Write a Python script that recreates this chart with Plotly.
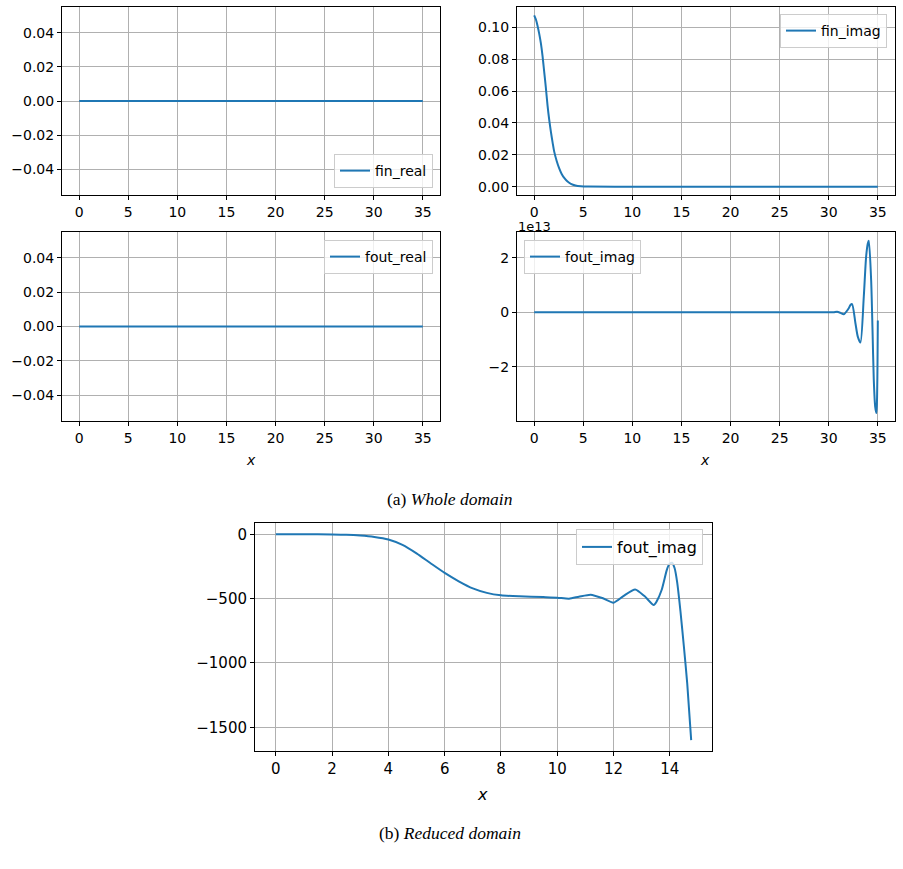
import plotly.graph_objects as go

# ---------------- data ----------------
x_whole = [0, 35]
fin_real = [0.0, 0.0]
fout_real = [0.0, 0.0]

x_fin_imag = [0, 0.17, 0.34, 0.51, 0.68, 0.85, 1.02, 1.19, 1.36, 1.53, 1.70, 1.87,
              2.04, 2.3, 2.55, 2.8, 3.06, 3.4, 3.74, 4.2, 4.76, 5.5, 10, 20, 35]
fin_imag = [0.1075, 0.105, 0.101, 0.096, 0.090, 0.082, 0.072, 0.062, 0.051, 0.042,
            0.0345, 0.028, 0.022, 0.016, 0.0115, 0.008, 0.0055, 0.0032, 0.0018,
            0.0008, 0.0003, 0.0001, 0.0, 0.0, 0.0]

x_fout_whole = [0, 30, 30.5, 30.85, 31.2, 31.53, 32.04, 32.21, 32.38, 32.72, 32.96,
                33.23, 33.57, 33.81, 33.98, 34.08, 34.32, 34.46, 34.59, 34.73,
                34.86, 34.93, 34.97, 35.0]
fout_imag_whole = [0, 0, 0.0, 0.02e13, -0.02e13, -0.07e13, 0.15e13, 0.27e13, 0.30e13,
                   -0.40e13, -0.89e13, -1.11e13, 0.57e13, 2.04e13, 2.52e13, 2.62e13,
                   1.18e13, -0.65e13, -2.48e13, -3.45e13, -3.69e13, -3.0e13,
                   -1.8e13, -0.3e13]

x_reduced = [0, 1, 2, 2.5, 3.0, 3.5, 4.0, 4.5, 5.0, 5.5, 6.0, 6.5, 7.0, 7.5,
             8.0, 8.65, 9.5, 10.0, 10.42, 10.77, 11.19, 11.6, 12.0, 12.35, 12.77,
             13.1, 13.43, 13.53, 13.71, 13.89, 13.98, 14.08, 14.17, 14.26, 14.38,
             14.5, 14.62, 14.76]
fout_imag_reduced = [0, 0, -1, -3, -9, -20, -40, -82, -148, -225, -300, -365, -420,
                     -455, -474, -482, -488, -492, -500, -485, -469, -495, -531, -480,
                     -428, -480, -550, -523, -433, -280, -232, -221, -262, -370, -600,
                     -870, -1160, -1600]

W, H = 903, 869
BLUE = "#1f77b4"


def px_x(p):
    return p / W


def px_y(p):
    return 1 - p / H


fig = go.Figure()

line = dict(color=BLUE, width=2)
fig.add_trace(go.Scatter(x=x_whole, y=fin_real, mode="lines", name="fin_real",
                         line=line, xaxis="x", yaxis="y", legend="legend"))
fig.add_trace(go.Scatter(x=x_fin_imag, y=fin_imag, mode="lines", name="fin_imag",
                         line=dict(color=BLUE, width=2, shape="spline", smoothing=0.8),
                         xaxis="x2", yaxis="y2", legend="legend2"))
fig.add_trace(go.Scatter(x=x_whole, y=fout_real, mode="lines", name="fout_real",
                         line=line, xaxis="x3", yaxis="y3", legend="legend3"))
fig.add_trace(go.Scatter(x=x_fout_whole, y=fout_imag_whole, mode="lines", name="fout_imag",
                         line=dict(color=BLUE, width=2, shape="spline", smoothing=0.7),
                         xaxis="x4", yaxis="y4", legend="legend4"))
fig.add_trace(go.Scatter(x=x_reduced, y=fout_imag_reduced, mode="lines", name="fout_imag",
                         line=dict(color=BLUE, width=2, shape="spline", smoothing=0.6),
                         xaxis="x5", yaxis="y5", legend="legend5"))

FONT_TOP = dict(family="DejaVu Sans", size=14, color="#000000")
FONT_BOT = dict(family="DejaVu Sans", size=16, color="#000000")
FONT_BOT_TICK = dict(family="DejaVu Sans", size=15, color="#000000")


def ax(domain, rng, font, anchor, **kw):
    d = dict(domain=domain, range=rng, anchor=anchor, showline=True, mirror=True,
             linecolor="#000000", linewidth=1, ticks="outside", ticklen=4,
             tickcolor="#000000", tickwidth=1, showgrid=True, gridcolor="#b0b0b0",
             gridwidth=1, zeroline=False, tickfont=font, fixedrange=True)
    d.update(kw)
    return d


xl, xr = [px_x(62), px_x(440)], [px_x(517), px_x(895)]
yt, yb = [px_y(195), px_y(7)], [px_y(421), px_y(232)]

fig.update_layout(
    width=W, height=H, margin=dict(l=0, r=0, t=0, b=0),
    paper_bgcolor="white", plot_bgcolor="white",
    xaxis=ax(xl, [-1.75, 36.75], FONT_TOP, "y", dtick=5, tick0=0),
    yaxis=ax(yt, [-0.055, 0.055], FONT_TOP, "x", tickvals=[-0.04, -0.02, 0, 0.02, 0.04],
             tickformat=".2f"),
    xaxis2=ax(xr, [-1.75, 36.75], FONT_TOP, "y2", dtick=5, tick0=0),
    yaxis2=ax(yt, [-0.0052, 0.1127], FONT_TOP, "x2", tickvals=[0, 0.02, 0.04, 0.06, 0.08, 0.10],
              tickformat=".2f"),
    xaxis3=ax(xl, [-1.75, 36.75], FONT_TOP, "y3", dtick=5, tick0=0),
    yaxis3=ax(yb, [-0.055, 0.055], FONT_TOP, "x3", tickvals=[-0.04, -0.02, 0, 0.02, 0.04],
              tickformat=".2f"),
    xaxis4=ax(xr, [-1.75, 36.75], FONT_TOP, "y4", dtick=5, tick0=0),
    yaxis4=ax(yb, [-3.98e13, 2.94e13], FONT_TOP, "x4", tickvals=[-2e13, 0, 2e13],
              ticktext=["\u22122", "0", "2"]),
    xaxis5=ax([px_x(255), px_x(712)], [-0.74, 15.5], FONT_BOT_TICK, "y5", dtick=2, tick0=0),
    yaxis5=ax([px_y(751), px_y(523)], [-1684, 88], FONT_BOT_TICK, "x5",
              tickvals=[0, -500, -1000, -1500]),
    showlegend=True,
)

leg_common = dict(bgcolor="rgba(255,255,255,0.8)", bordercolor="#cccccc", borderwidth=1,
                  itemwidth=30, tracegroupgap=0)
fig.update_layout(
    legend=dict(x=px_x(433), y=px_y(188), xanchor="right", yanchor="bottom",
                font=FONT_TOP, **leg_common),
    legend2=dict(x=px_x(887), y=px_y(14), xanchor="right", yanchor="top",
                 font=FONT_TOP, **leg_common),
    legend3=dict(x=px_x(433), y=px_y(240), xanchor="right", yanchor="top",
                 font=FONT_TOP, **leg_common),
    legend4=dict(x=px_x(524), y=px_y(240), xanchor="left", yanchor="top",
                 font=FONT_TOP, **leg_common),
    legend5=dict(x=px_x(703), y=px_y(529), xanchor="right", yanchor="top",
                 font=FONT_BOT, **leg_common),
)

annotations = [
    dict(text="1e13", x=px_x(516), y=px_y(226), xanchor="left", yanchor="middle",
         font=dict(family="DejaVu Sans", size=13, color="#000000")),
    dict(text="<i>x</i>", x=px_x(251), y=px_y(460), xanchor="center", yanchor="middle",
         font=FONT_TOP),
    dict(text="<i>x</i>", x=px_x(705), y=px_y(460), xanchor="center", yanchor="middle",
         font=FONT_TOP),
    dict(text="<i>x</i>", x=px_x(483), y=px_y(794), xanchor="center", yanchor="middle",
         font=FONT_BOT),
    dict(text="(a) <i>Whole domain</i>", x=px_x(450), y=px_y(499), xanchor="center",
         yanchor="middle", font=dict(family="Liberation Serif", size=17.5, color="#000000")),
    dict(text="(b) <i>Reduced domain</i>", x=px_x(450), y=px_y(833), xanchor="center",
         yanchor="middle", font=dict(family="Liberation Serif", size=17.5, color="#000000")),
]
for a in annotations:
    a.update(xref="paper", yref="paper", showarrow=False)
fig.update_layout(annotations=annotations)

fig.write_html("out.html")
